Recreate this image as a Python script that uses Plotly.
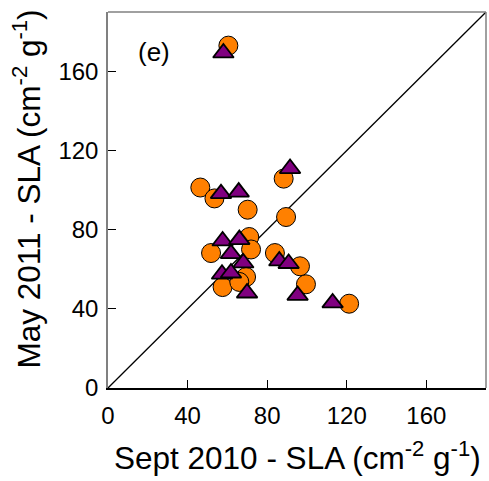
import plotly.graph_objects as go

# Sept 2010 (x) vs May 2011 (y) SLA
circle_x = [60.5, 46.4, 53.5, 70.2, 88.3, 89.5, 51.8, 71.0, 71.9, 83.9, 57.6, 69.4, 66.0, 96.5, 99.5, 121.2]
circle_y = [173.0, 101.3, 95.8, 90.1, 105.8, 86.4, 68.2, 76.3, 70.0, 68.2, 51.0, 56.1, 53.6, 61.5, 52.4, 42.6]

tri_x = [58.0, 56.8, 65.7, 91.5, 57.6, 66.0, 61.8, 68.0, 57.3, 61.8, 69.9, 86.1, 90.8, 95.3, 112.9]
tri_y = [169.3, 98.2, 99.0, 110.9, 74.3, 75.0, 67.9, 63.2, 57.5, 58.1, 48.0, 64.2, 62.9, 46.8, 43.0]

one_to_one = [0, 190]
x_ticks = [0, 40, 80, 120, 160]
y_ticks = [0, 40, 80, 120, 160]

FONT = "Liberation Sans, Arial, sans-serif"

fig = go.Figure()
fig.add_trace(go.Scatter(x=one_to_one, y=one_to_one, mode="lines",
                         line=dict(color="black", width=1.3), showlegend=False, hoverinfo="skip"))
fig.add_trace(go.Scatter(x=circle_x, y=circle_y, mode="markers",
                         marker=dict(symbol="circle", size=19, color="#FF8000",
                                     line=dict(color="black", width=1)), showlegend=False))
fig.add_trace(go.Scatter(x=tri_x, y=tri_y, mode="markers",
                         marker=dict(symbol="triangle-up", size=18, color="#800080",
                                     line=dict(color="black", width=1.8)), showlegend=False))

fig.update_layout(
    width=489, height=481,
    margin=dict(l=108, r=3, t=12, b=93),
    paper_bgcolor="white", plot_bgcolor="white",
    font=dict(family=FONT, color="black"),
    xaxis=dict(range=[0, 190], tickvals=x_ticks, ticks="inside", ticklen=8, tickwidth=1.2,
               tickcolor="black", showline=True, linecolor="black", linewidth=1.5,
               showgrid=False, zeroline=False, tickfont=dict(size=24, family=FONT),
               ticklabelstandoff=5),
    yaxis=dict(range=[0, 190], tickvals=y_ticks, ticks="inside", ticklen=8, tickwidth=1.2,
               tickcolor="black", showline=True, linecolor="#808080", linewidth=1.5,
               showgrid=False, zeroline=False, tickfont=dict(size=24, family=FONT),
               ticklabelstandoff=3),
    shapes=[
        dict(type="line", xref="paper", yref="paper", x0=0, x1=1, y0=1, y1=1,
             line=dict(color="#808080", width=1.5)),
        dict(type="line", xref="paper", yref="paper", x0=1, x1=1, y0=0, y1=1,
             line=dict(color="#808080", width=1.5)),
    ],
    annotations=[
        dict(text="(e)", x=23, y=170, xref="x", yref="y", showarrow=False,
             font=dict(size=26, family=FONT)),
        dict(text="Sept 2010 - SLA (cm<sup>-2</sup> g<sup>-1</sup>)", x=0.5, y=-0.18,
             xref="paper", yref="paper", xanchor="center", yanchor="middle",
             showarrow=False, font=dict(size=31.5, family=FONT)),
        dict(text="May 2011 - SLA (cm<sup>-2</sup> g<sup>-1</sup>)", x=-0.215, y=0.53,
             xref="paper", yref="paper", xanchor="center", yanchor="middle", textangle=-90,
             showarrow=False, font=dict(size=31.5, family=FONT)),
    ],
)

fig.write_html("out.html")
